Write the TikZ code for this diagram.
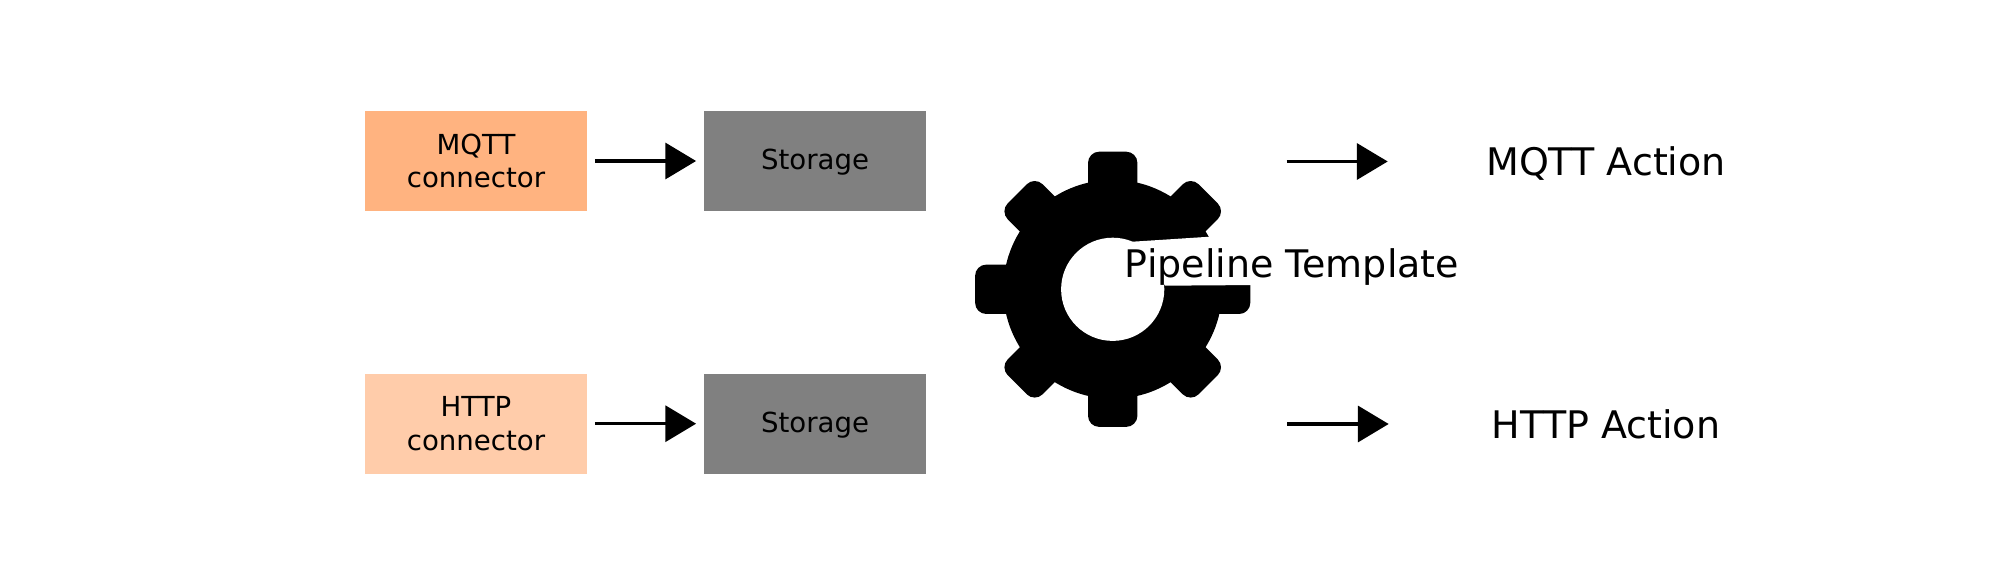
\documentclass[tikz,border=0pt]{standalone}
\usepackage{fontspec}
\setmainfont{DejaVu Sans}
\usetikzlibrary{arrows.meta}
\tikzset{
  box/.style={minimum width=111pt,minimum height=50pt,inner sep=0pt,align=center,font=\fontsize{13.8}{16.8}\selectfont,text=black},
  conn/.style={box,fill=#1},
  storebox/.style={box,fill=stor,text height=11.8pt,text depth=3.3pt},
  big/.style={inner sep=0pt,font=\fontsize{19}{22}\selectfont,text=black},
  flow/.style={line width=1.65pt,draw=black,-{Triangle[length=15.4pt,width=18pt,fill=black]}},
  tooth/.style={fill=black,rounded corners=5.6pt}
}
\definecolor{mqttc}{HTML}{FFB380}
\definecolor{httpc}{HTML}{FFCCAA}
\definecolor{stor}{HTML}{808080}
\begin{document}
\begin{tikzpicture}[x=0.5pt,y=-0.5pt]
\useasboundingbox (0,0) rectangle (2000,581);
% boxes
\node[conn=mqttc] (mqtt) at (476,161) {MQTT\\connector};
\node[conn=httpc] (http) at (476,423.7) {HTTP\\connector};
\node[storebox] (s1) at (815,161) {Storage};
\node[storebox] (s2) at (815,423.7) {Storage};
\draw[flow,shorten <=3.75pt,shorten >=3.75pt] (mqtt) -- (s1);
\draw[flow,shorten <=3.75pt,shorten >=3.75pt] (http) -- (s2);
% gear
\begin{scope}[shift={(1112.7,289.3)}]
  \fill[black] (0,0) circle (109.4);
  \foreach \a/\len in {0/137.6,45/135,90/137.6,135/135,180/137.6,225/135,270/137.6,315/135}{
    \begin{scope}[rotate=\a]
      \fill[tooth] (-24.7,0) -- (-24.7,-\len) -- (24.7,-\len) -- (24.7,0) -- cycle;
    \end{scope}
  }
  \fill[white] (0,0) circle (51.6);
\end{scope}
\fill[white] (1132.7,241.7) -- (1210,236.7) -- (1260,236.7) -- (1260,285) -- (1165,285.7) -- (1150,260) -- cycle;
\node[big,anchor=base] (pipe) at (1292,278) {Pipeline Template};
% actions
\node[big,anchor=base] (ma) at (1606,176) {MQTT Action};
\node[big,anchor=base] (ha) at (1606,439) {HTTP Action};
\coordinate (a1s) at (1286.7,161.5);
\coordinate (a1e) at (1387.7,161.5);
\coordinate (a2s) at (1287.3,424);
\coordinate (a2e) at (1388.7,424);
\draw[flow] (a1s) -- (a1e);
\draw[flow] (a2s) -- (a2e);
\end{tikzpicture}
\end{document}
